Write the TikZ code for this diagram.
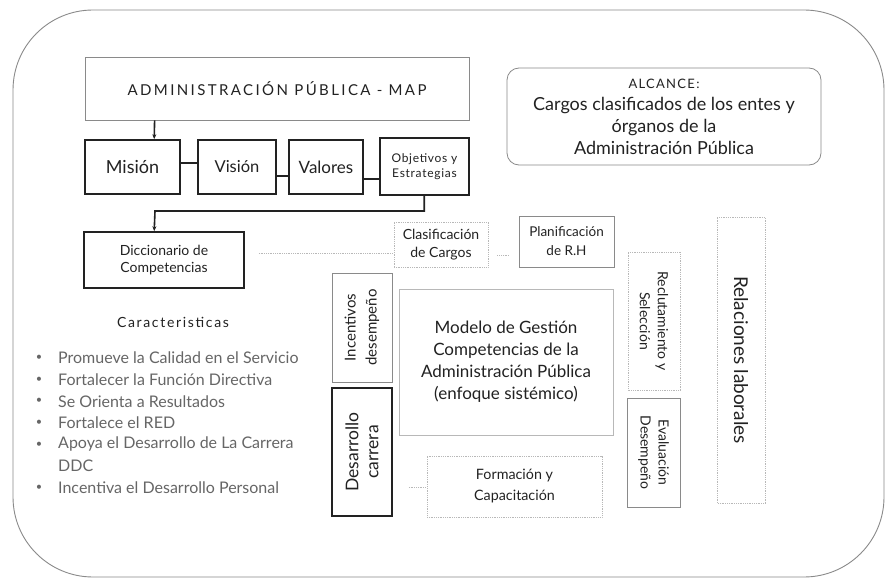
\documentclass[tikz,border=0pt]{standalone}
\usepackage{fontspec}
\setmainfont{Lato}
\usetikzlibrary{arrows.meta,calc}
\definecolor{ink}{HTML}{222222}
\definecolor{midgray}{HTML}{8A8A8A}
\definecolor{lightgray}{HTML}{B8B8B8}
\definecolor{txtgray}{HTML}{666666}
\newcommand{\fsz}[2]{\fontsize{#1}{#2}\selectfont}
\begin{document}
\begin{tikzpicture}[x=1pt,y=-1pt,
  every node/.style={inner sep=2pt, align=center, text=ink},
  darkbox/.style={draw=ink, line width=1.6pt},
  graybox/.style={draw=midgray, line width=0.8pt},
  lightbox/.style={draw=lightgray, line width=0.8pt, densely dotted},
  conn/.style={draw=ink, line width=1.6pt},
  dotconn/.style={draw=lightgray, line width=0.8pt, densely dotted},
  bul/.style={anchor=west, text=txtgray, font=\fsz{16}{18}, inner sep=0pt},
  dotmark/.style={anchor=center, text=txtgray, font=\fsz{11}{12}, inner sep=0pt}
]
\useasboundingbox (0,0) rectangle (886,583);
\fill[white] (0,0) rectangle (886,583);
% outer frame
\draw[midgray, line width=0.9pt, rounded corners=80pt] (13,10) rectangle (884,577);

% top boxes
\node[graybox, minimum width=384pt, minimum height=63pt, font={\fsz{15}{18}\addfontfeature{LetterSpace=16}}] (map) at (277,88.5) {ADMINISTRACIÓN PÚBLICA - MAP};
\node[graybox, rounded corners=12pt, minimum width=314pt, minimum height=97pt, font=\fsz{18}{22}] (alc) at (664,116.5) {{\fsz{13}{14}\addfontfeature{LetterSpace=10}ALCANCE:}\\Cargos clasificados de los entes y\\órganos de la\\Administración Pública};

\node[darkbox, minimum width=95pt, minimum height=54pt, font=\fsz{18}{20}] (mis) at (132.5,167) {Misión};
\node[darkbox, minimum width=78pt, minimum height=54pt, font=\fsz{16.5}{19}] (vis) at (237,167) {Visión};
\node[darkbox, minimum width=74pt, minimum height=54pt, font=\fsz{17}{19}] (val) at (326,167) {Valores};
\node[darkbox, minimum width=89pt, minimum height=57pt, font={\fsz{12}{15}\addfontfeature{LetterSpace=6}}] (obj) at (424.5,166.5) {Objetivos y\\Estrategias};

\draw[conn, -{Stealth[length=5pt,width=4pt]}] ($(map.south west)+(70,0)$) -- ($(mis.north west)+(70,0)$);
\draw[conn] (mis.east |- 0,163) -- (vis.west |- 0,163);
\draw[conn] (vis.east |- 0,176) -- (val.west |- 0,176);
\draw[conn] (val.east |- 0,179) -- (obj.west |- 0,179);

\node[darkbox, minimum width=160pt, minimum height=56pt, font=\fsz{14}{17}] (dic) at (164,260) {Diccionario de\\Competencias};
\draw[conn, -{Stealth[length=5pt,width=4pt]}] ($(obj.south west)+(45,0)$) |- (155,211) -- ($(dic.north west)+(71,0)$);

% right cluster
\node[lightbox, minimum width=94pt, minimum height=45pt, font=\fsz{14}{18}] (cla) at (441,244.5) {Clasificación\\de Cargos};
\node[graybox, minimum width=95pt, minimum height=51pt, font=\fsz{13.5}{19}] (pla) at (566.5,241.5) {Planificación\\de R.H};
\node[lightbox, rotate=-90, minimum width=138pt, minimum height=52pt, font=\fsz{14}{18}] (rec) at (654,321) {Reclutamiento y\\Selección};
\node[lightbox, rotate=-90, minimum width=286pt, minimum height=48pt, font=\fsz{19}{20}] (rel) at (741,360) {Relaciones laborales};
\node[graybox, rotate=90, minimum width=109pt, minimum height=60pt, font=\fsz{15}{21}] (inc) at (362,327.5) {Incentivos\\desempeño};
\node[graybox, draw=lightgray, minimum width=214pt, minimum height=146pt, font=\fsz{17}{22}] (mod) at (506,362) {Modelo de Gestión\\Competencias de la\\Administración Pública\\(enfoque sistémico)};
\node[darkbox, rotate=90, minimum width=128pt, minimum height=60pt, font=\fsz{17.5}{20}] (des) at (362,452) {Desarrollo\\carrera};
\node[graybox, rotate=-90, minimum width=109pt, minimum height=53pt, font=\fsz{14}{18}] (eva) at (653.5,452.5) {Evaluación\\Desempeño};
\node[lightbox, minimum width=175pt, minimum height=61pt, font=\fsz{14.3}{21}] (for) at (514.5,486.5) {Formación y\\Capacitación};

\draw[dotconn] ($(dic.east)+(14,-7)$) -- ($(cla.west)+(0,8.5)$);
\draw[dotconn] ($(cla.east)+(9,10.5)$) -- ($(pla.west)+(-10,13.5)$);
\draw[dotconn] ($(des.south)+(16,35)$) -- ($(for.west)+(0,0.5)$);

% caracteristicas
\node[font={\fsz{14}{16}\addfontfeature{LetterSpace=12}}] (car) at (173,322) {Caracteristicas};
\foreach \t [count=\i] in {Promueve la Calidad en el Servicio, Fortalecer la Función Directiva, Se Orienta a Resultados, Fortalece el RED, Apoya el Desarrollo de La Carrera}{
  \node[bul] (b\i) at (58, 358+21.6*\i-21.6) {\t};
  \node[dotmark] (d\i) at (39, 358+21.6*\i-21.6) {•};
}
\node[bul] (b6) at (58,466) {DDC};
\node[bul] (b7) at (58,488) {Incentiva el Desarrollo Personal};
\node[dotmark] (d7) at (39,488) {•};
\end{tikzpicture}
\end{document}
